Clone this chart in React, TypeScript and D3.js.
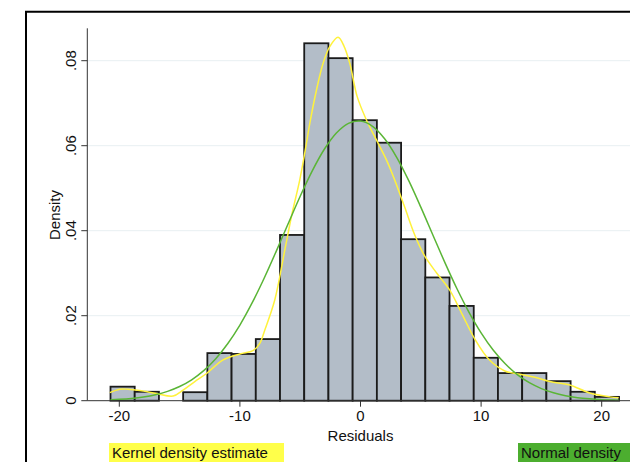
import React from "react";
import * as d3 from "d3";

// Histogram of residuals: bins start at binStart, each binWidth wide
const binStart = -20.73;
const binWidth = 2.008;
const binDensity = [
  0.0033, 0.0021, 0, 0.002, 0.0112, 0.011, 0.0145, 0.039, 0.0841, 0.0806,
  0.066, 0.0607, 0.038, 0.029, 0.0223, 0.0101, 0.0065, 0.0065, 0.0046,
  0.0021, 0.0009,
];

// Kernel density estimate
const kernelX = [
  -20.79, -19.96, -19.3, -18.3, -16.92, -15.54, -14.71, -13.74, -12.77,
  -11.39, -10.01, -8.91, -8.35, -7.94, -7.11, -6.28, -5.7, -5.04, -4.62,
  -4.2, -3.65, -3.1, -2.55, -1.86, -1.38, -0.89, -0.28, 0.5, 1.33, 2.16,
  2.84, 3.67, 4.5, 5.33, 6.33, 7.4, 8.4, 9.48, 10.72, 11.97, 13.21, 14.45,
  15.7, 17.35, 19.01, 20.67, 21.41,
];
const kernelY = [
  0.0019, 0.0027, 0.0027, 0.0024, 0.0017, 0.0011, 0.0025, 0.0045, 0.0064,
  0.0096, 0.011, 0.0118, 0.0135, 0.0166, 0.0237, 0.0354, 0.0437, 0.0519,
  0.0583, 0.0653, 0.0731, 0.0794, 0.0833, 0.0855, 0.0835, 0.0794, 0.0716,
  0.066, 0.0613, 0.0566, 0.0519, 0.0455, 0.039, 0.034, 0.03, 0.026, 0.0205,
  0.0145, 0.0095, 0.007, 0.0062, 0.0055, 0.0045, 0.0037, 0.0018, 0.0009,
  0.0007,
];

// Normal density
const normalX = [
  -20.73, -20, -19, -18, -17, -16, -15, -14, -13, -12, -11, -10, -9, -8, -7,
  -6, -5, -4, -3, -2, -1, 0, 1, 2, 3, 4, 5, 6, 7, 8, 9, 10, 11, 12, 13, 14,
  15, 16, 17, 18, 19, 20, 21, 21.44,
];
const normalY = [
  0.00021, 0.00032, 0.00054, 0.00088, 0.00141, 0.0022, 0.00334, 0.00492,
  0.00707, 0.00989, 0.01346, 0.0178, 0.02294, 0.02876, 0.03508, 0.04164,
  0.04811, 0.05408, 0.05917, 0.06299, 0.06526, 0.06579, 0.06455, 0.06163,
  0.05727, 0.05178, 0.04555, 0.039, 0.0325, 0.02635, 0.0208, 0.01597,
  0.01193, 0.00868, 0.00614, 0.00423, 0.00284, 0.00185, 0.00117, 0.00072,
  0.00044, 0.00025, 0.00014, 0.00011,
];

const xTicks = [-20, -10, 0, 10, 20];
const yTicks = [0, 0.02, 0.04, 0.06, 0.08];
const yTickLabels = ["0", ".02", ".04", ".06", ".08"];
const legendLabels = ["Kernel density estimate", "Normal density"];

const W = 630;
const H = 462;
const FONT = "'Liberation Sans', Arial, Helvetica, sans-serif";
const BAR_FILL = "#b3bdc8";
const KERNEL_COLOR = "#fff23c";
const NORMAL_COLOR = "#5ab536";

export default function App() {
  const x = d3.scaleLinear().domain([-20, 20]).range([119.3, 601.7]);
  const y = d3.scaleLinear().domain([0, 0.08]).range([400.7, 60.7]);
  const axisX = 87.3;
  const baseY = y(0);

  const kernelLine = d3
    .line<number>()
    .x((_, i) => x(kernelX[i]))
    .y((d) => y(d))
    .curve(d3.curveCatmullRom.alpha(0.5));
  const normalLine = d3
    .line<number>()
    .x((_, i) => x(normalX[i]))
    .y((d) => y(d))
    .curve(d3.curveCatmullRom.alpha(0.5));

  return (
    <svg
      width={W}
      height={H}
      style={{ position: "absolute", left: 0, top: 0, background: "#fff" }}
      fontFamily={FONT}
    >
      {/* outer frame */}
      <path d={`M26,${H + 2} L26,11.7 L${W + 2},11.7`} fill="none" stroke="#000" strokeWidth={2} />

      {/* gridlines */}
      {yTicks.slice(1).map((t) => (
        <line key={t} x1={axisX} x2={W} y1={y(t)} y2={y(t)} stroke="#e8eff2" strokeWidth={1} />
      ))}

      {/* histogram bars */}
      {binDensity.map((d, i) => {
        if (d <= 0) return null;
        const x0 = x(binStart + i * binWidth);
        const x1 = x(binStart + (i + 1) * binWidth);
        return (
          <rect
            key={i}
            x={x0}
            y={y(d)}
            width={x1 - x0}
            height={baseY - y(d)}
            fill={BAR_FILL}
            stroke="#1b1b1b"
            strokeWidth={1.8}
          />
        );
      })}

      {/* density curves */}
      <path d={kernelLine(kernelY) || ""} fill="none" stroke={KERNEL_COLOR} strokeWidth={1.5} />
      <path d={normalLine(normalY) || ""} fill="none" stroke={NORMAL_COLOR} strokeWidth={1.5} />

      {/* axes */}
      <line x1={axisX} x2={axisX} y1={28.3} y2={baseY} stroke="#333" strokeWidth={1} />
      <line x1={axisX} x2={W} y1={baseY} y2={baseY} stroke="#333" strokeWidth={1} />

      {xTicks.map((t) => (
        <g key={t}>
          <line x1={x(t)} x2={x(t)} y1={baseY} y2={baseY + 6} stroke="#333" strokeWidth={1} />
          <text x={x(t)} y={421} textAnchor="middle" fontSize={15} fill="#111">
            {t}
          </text>
        </g>
      ))}
      {yTicks.map((t, i) => (
        <g key={t}>
          <line x1={axisX - 6} x2={axisX} y1={y(t)} y2={y(t)} stroke="#333" strokeWidth={1} />
          <text
            transform={`translate(76,${y(t)}) rotate(-90)`}
            textAnchor="middle"
            fontSize={15}
            fill="#111"
          >
            {yTickLabels[i]}
          </text>
        </g>
      ))}

      <text x={x(0)} y={441} textAnchor="middle" fontSize={15} fill="#111">
        Residuals
      </text>
      <text transform="translate(60,215) rotate(-90)" textAnchor="middle" fontSize={15} fill="#111">
        Density
      </text>

      {/* legend */}
      <rect x={109} y={443} width={175} height={19} fill="#ffff4a" />
      <text x={112} y={458} fontSize={15} fill="#111">
        {legendLabels[0]}
      </text>
      <rect x={518} y={443} width={112} height={19} fill="#4cae2f" />
      <text x={521} y={458} fontSize={15} fill="#111">
        {legendLabels[1]}
      </text>
    </svg>
  );
}
